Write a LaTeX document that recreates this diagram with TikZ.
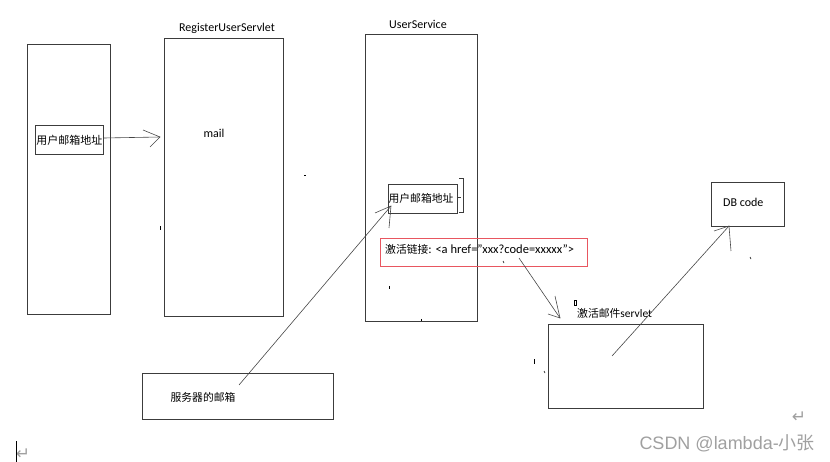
\documentclass[tikz,border=0pt]{standalone}
\usepackage{fontspec}
\setmainfont{Carlito}
\newfontfamily\cjk{Noto Sans CJK SC}
\newfontfamily\wmfont{Liberation Sans}
\newfontfamily\symfont{DejaVu Sans}
\definecolor{boxgray}{RGB}{60,60,60}
\definecolor{linegray}{RGB}{70,70,70}
\definecolor{redbox}{RGB}{232,86,96}
\definecolor{wmgray}{RGB}{160,160,160}
\begin{document}
\begin{tikzpicture}[x=1pt,y=-1pt,
  box/.style={draw=boxgray, line width=0.9pt, inner sep=0pt, anchor=north west},
  lbl/.style={inner sep=0pt, font=\fontsize{12}{14}\selectfont},
  cjklbl/.style={inner sep=0pt, font=\cjk\fontsize{10.8}{13}\selectfont},
  con/.style={draw=linegray, line width=0.6pt},
  stray/.style={draw=black, line width=0.6pt}]
\useasboundingbox (0,0) rectangle (830,462);

% main boxes
\node[box, minimum width=83pt, minimum height=270pt] (client) at (27,44) {};
\node[box, minimum width=119pt, minimum height=278pt] (reg) at (164,38) {};
\node[box, minimum width=112pt, minimum height=287pt] (svc) at (365,34) {};
\node[box, minimum width=191pt, minimum height=46pt] (mailsrv) at (142,373) {};
\node[box, minimum width=155pt, minimum height=84pt] (act) at (548,324) {};
\node[box, minimum width=73pt, minimum height=44pt] (db) at (711,182) {};

% titles
\node[lbl] (regT) at (227,28) {RegisterUserServlet};
\node[lbl] (svcT) at (418,24) {UserService};
\node[lbl] (mailT) at (214,133) {mail};
\node[lbl, anchor=west] (dbT) at (723,202) {DB code};
\node[inner sep=0pt, anchor=west, font=\fontsize{11.5}{13}\selectfont] (actT) at (577,313) {{\cjk\fontsize{10.8}{13}\selectfont 激活邮件}servlet};
\node[cjklbl] (mailsrvT) at (203,397) {服务器的邮箱};

% inner boxes
\node[box, minimum width=68pt, minimum height=29pt] (addr1) at (35,125) {};
\node[cjklbl, font=\cjk\fontsize{11}{13}\selectfont] (addr1T) at (addr1.center) {用户邮箱地址};
\node[box, minimum width=69pt, minimum height=29pt] (addr2) at (388,184) {};
\node[cjklbl] (addr2T) at (421,198) {用户邮箱地址};

% red link box
\node[box, draw=redbox, minimum width=207pt, minimum height=28pt] (link) at (380,238) {};
\node[inner sep=0pt, anchor=west, font=\fontsize{12.5}{14}\selectfont] (linkT) at (385,249) {{\cjk\fontsize{10.8}{13}\selectfont 激活链接}: <a href="xxx?code=xxxxx">};

% bracket near addr2
\draw[stray, draw=boxgray] (459,178) -- (463,178) -- (463,212) -- (459,212);
\draw[stray, draw=boxgray] (457,197) -- (461,197);

% connectors
\coordinate (t1) at (160,137);
\draw[con] (addr1.east |- 0,138) -- (t1);
\draw[con] (143,130) -- (t1) -- (150,147);

\coordinate (s2) at (239,385);
\coordinate (t2) at (391,206);
\draw[con] (s2) -- (t2);
\draw[con] (375,213) -- (t2) -- (389,228);

\coordinate (s3) at (519,258);
\coordinate (t3) at (560,318);
\draw[con] (s3) -- (t3);
\draw[con] (548,314) -- (t3) -- (555,296);

\coordinate (s4) at (612,356);
\coordinate (t4) at (729,226);
\draw[con] (s4) -- (t4);
\draw[con] (714,231) -- (t4) -- (731,251);

% stray marks
\draw[stray] (304,175) -- (306,175);
\draw[stray] (160,226) -- (160,230);
\draw[stray] (503,261) -- (504,263);
\draw[stray] (389,286) -- (389,289);
\draw[stray] (421,319) -- (421,321);
\draw[stray, line width=0.4pt] (574,300) rectangle (576,305);
\draw[stray] (750,257) -- (751,259);
\draw[stray] (534,359) -- (534,364);
\draw[stray] (544,371) -- (545,373);

% return symbols and cursor
\node[inner sep=0pt, text=wmgray, font=\symfont\fontsize{17}{18}\selectfont] (ret1) at (799,417) {↵};
\node[inner sep=0pt, text=wmgray, font=\symfont\fontsize{17}{18}\selectfont] (ret2) at (23,454) {↵};
\draw[stray, line width=0.8pt] (16,441) -- (16,462);

% watermark
\node[inner sep=0pt, anchor=east, text=wmgray, font=\wmfont\fontsize{18}{20}\selectfont] (wm) at (815,443) {CSDN @lambda-{\cjk 小张}};
\end{tikzpicture}
\end{document}
